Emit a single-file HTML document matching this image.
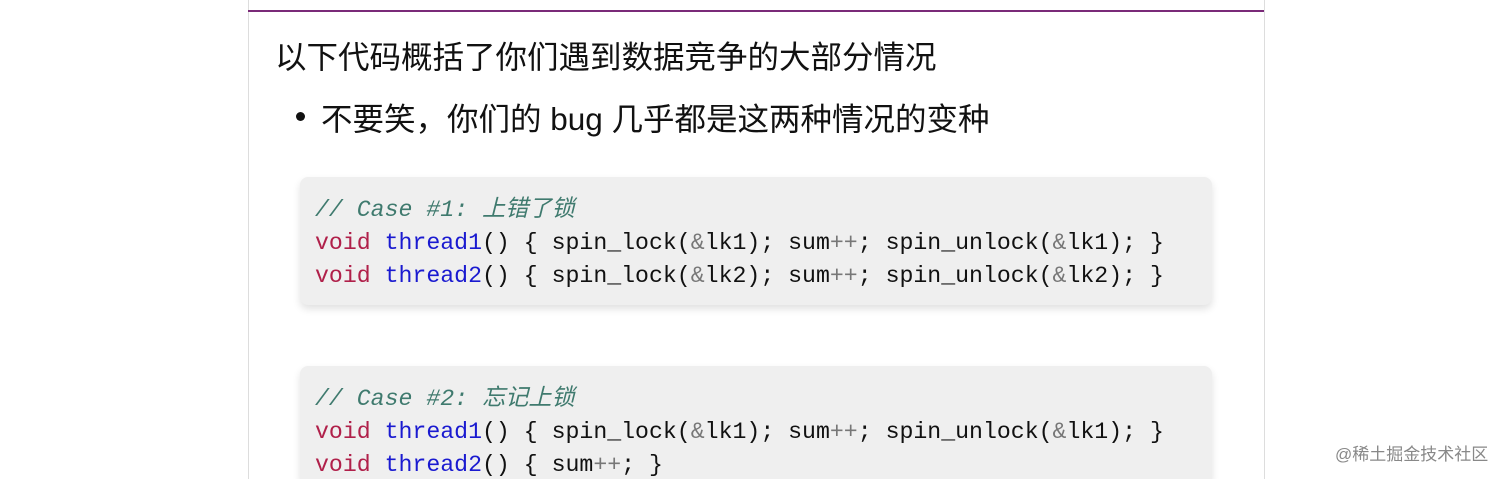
<!DOCTYPE html>
<html><head><meta charset="utf-8"><style>
html,body{margin:0;width:1512px;height:479px;overflow:hidden;}
body{background:#fff;position:relative;font-family:"Liberation Sans","Noto Sans CJK SC",sans-serif;}
.panel{position:absolute;left:248px;top:0;width:1015px;height:479px;border-left:1px solid #ddd;border-right:1px solid #ddd;background:#fff;}
.hr{position:absolute;left:248px;top:10px;width:1016px;height:2px;background:#7a2a78;}
.t{position:absolute;white-space:nowrap;color:#111;font-size:31.5px;}
.dot{position:absolute;left:296px;top:112px;width:9px;height:9px;border-radius:50%;background:#111;}
.code{position:absolute;left:300px;width:912px;background:#efefef;border-radius:8px;box-shadow:0 4px 8px rgba(0,0,0,0.12);font-family:"Liberation Mono","Noto Sans CJK SC",monospace;font-size:23.2px;line-height:33px;color:#111;padding:17px 0 0 15px;box-sizing:border-box;white-space:pre;overflow:hidden;}
.c{color:#3f7a6e;font-style:italic}.k{color:#b0204a}.f{color:#1a1ad0}.o{color:#777}
.wm{position:absolute;left:1335px;top:440px;font-size:17px;color:#888;}
</style></head><body>
<div class="panel"></div>
<div class="hr"></div>
<div class="t" style="left:275px;top:32px;">以下代码概括了你们遇到数据竞争的大部分情况</div>
<div class="dot"></div>
<div class="t" style="left:321px;top:94px;">不要笑，你们的 bug 几乎都是这两种情况的变种</div>
<div class="code" style="top:177px;height:128px;"><span class="c">// Case #1: 上错了锁</span>
<span class="k">void</span> <span class="f">thread1</span>() { spin_lock(<span class="o">&amp;</span>lk1); sum<span class="o">++</span>; spin_unlock(<span class="o">&amp;</span>lk1); }
<span class="k">void</span> <span class="f">thread2</span>() { spin_lock(<span class="o">&amp;</span>lk2); sum<span class="o">++</span>; spin_unlock(<span class="o">&amp;</span>lk2); }</div>
<div class="code" style="top:366px;height:113px;border-radius:8px 8px 0 0;"><span class="c">// Case #2: 忘记上锁</span>
<span class="k">void</span> <span class="f">thread1</span>() { spin_lock(<span class="o">&amp;</span>lk1); sum<span class="o">++</span>; spin_unlock(<span class="o">&amp;</span>lk1); }
<span class="k">void</span> <span class="f">thread2</span>() { sum<span class="o">++</span>; }</div>
<div class="wm">@稀土掘金技术社区</div>
</body></html>
